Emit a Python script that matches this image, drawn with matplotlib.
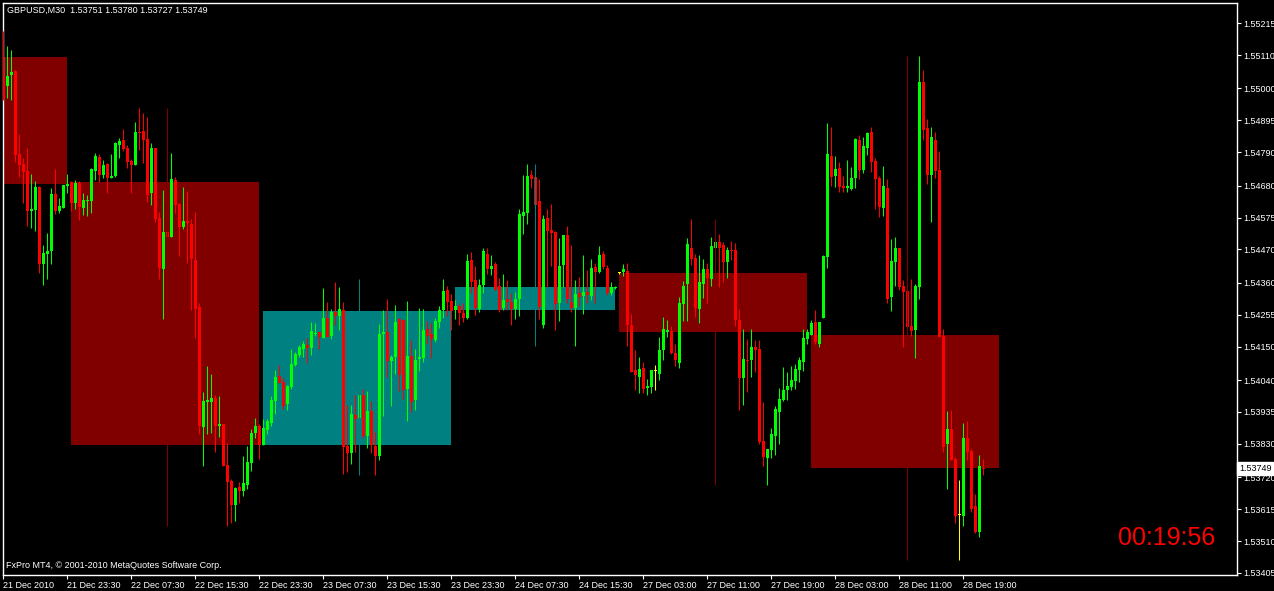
import numpy as np
import matplotlib
matplotlib.use('Agg')
import matplotlib.pyplot as plt
import matplotlib.transforms as mtransforms

plt.rcParams['font.family'] = ['Liberation Sans', 'DejaVu Sans']

symbol = "GBPUSD,M30"
timer_text = "00:19:56"
copyright_text = "FxPro MT4, \u00a9 2001-2010 MetaQuotes Software Corp."

# M30 candles, prices in points (1e-5)
opens = np.array([
    155034, 155008, 155044, 155057, 154784, 154751, 154728, 154597, 154600, 154676,
    154422, 154455, 154465, 154653, 154597, 154606, 154679, 154692, 154623, 154689,
    154606, 154630, 154630, 154728, 154774, 154715, 154751, 154705, 154712, 154814,
    154830, 154804, 154761, 154748, 154857, 154860, 154834, 154656, 154804, 154574,
    154406, 154528, 154511, 154699, 154620, 154544, 154564, 154554, 154435, 154281,
    153886, 153968, 153968, 153981, 153889, 153896, 153761, 153708, 153629, 153688,
    153675, 153695, 153767, 153866, 153889, 153827, 153876, 153899, 153971, 154054,
    154034, 153961, 154017, 154090, 154123, 154142, 154156, 154146, 154195, 154198,
    154179, 154245, 154185, 154264, 154251, 154271, 153823, 153800, 153925, 153915,
    153991, 153856, 153938, 153823, 153790, 154192, 154198, 154103, 154116, 154241,
    154238, 154011, 154119, 153975, 154110, 154113, 154208, 154192, 154172, 154231,
    154271, 154337, 154300, 154271, 154284, 154261, 154245, 154435, 154370, 154274,
    154353, 154455, 154406, 154422, 154350, 154277, 154307, 154297, 154274, 154307,
    154580, 154590, 154715, 154709, 154630, 154221, 154574, 154534, 154528, 154294,
    154419, 154518, 154297, 154277, 154327, 154317, 154330, 154317, 154412, 154396,
    154455, 154409, 154327, 154343, 154393, 154396, 154399, 154221, 154073, 154050,
    154080, 154014, 154017, 154070, 154060, 154139, 154198, 154202, 154129, 154096,
    154291, 154356, 154475, 154442, 154274, 154356, 154406, 154373, 154475, 154495,
    154485, 154429, 154468, 154468, 154238, 154047, 154106, 154106, 154149, 154142,
    153840, 153784, 153810, 153856, 153935, 153975, 154008, 154017, 154037, 154073,
    154100, 154175, 154189, 154231, 154159, 154245, 154445, 154778, 154712, 154738,
    154679, 154672, 154669, 154705, 154830, 154731, 154804, 154857, 154761, 154705,
    154606, 154672, 154314, 154429, 154475, 154350, 154333, 154218, 154205, 154347,
    155021, 154870, 154715, 154830, 154731, 154185, 153830, 153879, 153780, 153596,
    153593, 153850, 153807, 153626, 153540, 153751]) / 1e5

highs = np.array([
    155189, 155140, 155126, 155061, 154850, 154771, 154804, 154718, 154695, 154679,
    154485, 154524, 154672, 154735, 154639, 154682, 154718, 154695, 154699, 154695,
    154656, 154649, 154738, 154788, 154784, 154764, 154755, 154784, 154824, 154837,
    154866, 154814, 154768, 154889, 154936, 154919, 154906, 154820, 154804, 154593,
    154666, 154659, 154788, 154709, 154623, 154676, 154662, 154570, 154593, 154294,
    154001, 154086, 154060, 153991, 153988, 153896, 153833, 153715, 153688, 153705,
    153790, 153823, 153879, 153915, 153896, 153912, 153912, 153988, 154073, 154090,
    154047, 154024, 154142, 154133, 154156, 154169, 154179, 154231, 154228, 154198,
    154343, 154297, 154274, 154363, 154347, 154297, 153958, 153958, 153991, 154008,
    154011, 154004, 153971, 153869, 154225, 154271, 154307, 154123, 154287, 154245,
    154238, 154300, 154172, 154142, 154277, 154274, 154235, 154228, 154245, 154284,
    154373, 154350, 154323, 154304, 154291, 154294, 154455, 154462, 154416, 154373,
    154475, 154475, 154452, 154429, 154376, 154389, 154370, 154327, 154330, 154603,
    154715, 154751, 154731, 154709, 154702, 154583, 154603, 154620, 154531, 154508,
    154518, 154547, 154485, 154370, 154379, 154452, 154402, 154439, 154426, 154481,
    154465, 154419, 154363, 154350, 154396, 154422, 154426, 154258, 154139, 154116,
    154100, 154044, 154073, 154090, 154182, 154248, 154238, 154218, 154159, 154314,
    154366, 154508, 154570, 154455, 154452, 154439, 154426, 154511, 154501, 154521,
    154495, 154478, 154498, 154491, 154274, 154208, 154175, 154208, 154172, 154172,
    153968, 153813, 153883, 153955, 154014, 154083, 154067, 154086, 154093, 154116,
    154208, 154208, 154238, 154271, 154231, 154452, 154886, 154873, 154778, 154758,
    154712, 154764, 154741, 154837, 154847, 154840, 154857, 154873, 154771, 154712,
    154745, 154702, 154505, 154511, 154475, 154370, 154626, 154373, 154356, 155107,
    155061, 154899, 154873, 154857, 154794, 154208, 153938, 153942, 153787, 153711,
    153899, 153906, 153813, 153665, 153794, 153780]) / 1e5

lows = np.array([
    154962, 154968, 154962, 154758, 154709, 154623, 154547, 154541, 154531, 154393,
    154353, 154373, 154422, 154587, 154590, 154606, 154656, 154597, 154603, 154567,
    154583, 154580, 154590, 154699, 154692, 154705, 154656, 154705, 154709, 154771,
    154794, 154738, 154656, 154748, 154797, 154755, 154626, 154616, 154560, 154373,
    154241, 154488, 154511, 154590, 154449, 154537, 154426, 154271, 154179, 153863,
    153757, 153863, 153866, 153803, 153853, 153757, 153560, 153570, 153576, 153636,
    153659, 153682, 153741, 153850, 153780, 153827, 153863, 153889, 153929, 154031,
    153945, 153942, 154011, 154086, 154116, 154116, 154096, 154123, 154185, 154142,
    154179, 154182, 154175, 154221, 154205, 153731, 153738, 153764, 153803, 153909,
    153850, 153817, 153800, 153728, 153777, 153922, 154050, 153955, 154060, 154004,
    153978, 153906, 153935, 153942, 154070, 154100, 154159, 154113, 154166, 154212,
    154245, 154251, 154205, 154241, 154221, 154231, 154241, 154327, 154254, 154264,
    154327, 154389, 154386, 154337, 154264, 154271, 154271, 154221, 154241, 154251,
    154521, 154554, 154672, 154616, 154241, 154212, 154347, 154416, 154205, 154235,
    154347, 154294, 154264, 154152, 154284, 154258, 154294, 154304, 154294, 154393,
    154406, 154320, 154320, 154340, 154389, 154383, 154152, 154067, 154008, 153998,
    153998, 153991, 153998, 154008, 154040, 154106, 154182, 154126, 154086, 154080,
    154235, 154235, 154419, 154248, 154228, 154310, 154294, 154350, 154468, 154347,
    154363, 154376, 154435, 154218, 153942, 153958, 154001, 154050, 154067, 153830,
    153757, 153695, 153784, 153794, 153830, 153971, 153975, 154008, 154011, 154034,
    154070, 154159, 154189, 154159, 154149, 154245, 154409, 154679, 154676, 154659,
    154659, 154659, 154666, 154672, 154702, 154722, 154781, 154725, 154603, 154577,
    154580, 154294, 154268, 154350, 154337, 154149, 154172, 154185, 154113, 154307,
    154830, 154685, 154560, 154705, 154182, 153803, 153682, 153777, 153570, 153448,
    153560, 153777, 153606, 153537, 153524, 153727]) / 1e5

closes = np.array([
    154968, 155041, 155054, 154781, 154748, 154725, 154597, 154603, 154676, 154422,
    154458, 154465, 154653, 154597, 154613, 154682, 154685, 154623, 154689, 154610,
    154633, 154633, 154735, 154778, 154715, 154748, 154705, 154712, 154820, 154827,
    154801, 154758, 154748, 154857, 154853, 154830, 154649, 154804, 154570, 154409,
    154528, 154511, 154702, 154616, 154544, 154564, 154557, 154439, 154274, 153889,
    153971, 153975, 153981, 153889, 153896, 153757, 153705, 153629, 153685, 153675,
    153701, 153771, 153866, 153889, 153827, 153883, 153906, 153975, 154050, 154031,
    153955, 154021, 154093, 154126, 154149, 154159, 154146, 154202, 154198, 154182,
    154245, 154182, 154264, 154251, 154274, 153820, 153800, 153929, 153912, 153991,
    153856, 153938, 153827, 153790, 154192, 154198, 154103, 154116, 154231, 154057,
    154008, 154119, 153968, 154106, 154116, 154205, 154185, 154175, 154235, 154271,
    154333, 154297, 154268, 154284, 154261, 154245, 154432, 154363, 154277, 154353,
    154465, 154406, 154416, 154337, 154271, 154304, 154297, 154274, 154307, 154587,
    154593, 154712, 154702, 154616, 154281, 154570, 154531, 154524, 154291, 154416,
    154518, 154307, 154277, 154323, 154314, 154330, 154320, 154409, 154396, 154452,
    154412, 154327, 154347, 154347, 154393, 154406, 154221, 154067, 154057, 154077,
    154011, 154021, 154073, 154070, 154139, 154208, 154205, 154129, 154106, 154294,
    154350, 154488, 154439, 154277, 154363, 154406, 154376, 154481, 154495, 154475,
    154429, 154468, 154465, 154238, 154047, 154110, 154103, 154149, 154139, 153836,
    153787, 153813, 153863, 153945, 153978, 154008, 154021, 154040, 154077, 154106,
    154179, 154198, 154228, 154166, 154231, 154449, 154784, 154709, 154735, 154676,
    154672, 154679, 154705, 154834, 154731, 154811, 154853, 154758, 154702, 154610,
    154679, 154307, 154432, 154475, 154347, 154330, 154215, 154202, 154350, 155021,
    154863, 154715, 154840, 154728, 154182, 153820, 153879, 153777, 153593, 153596,
    153850, 153803, 153616, 153540, 153757, 153749]) / 1e5

# daily boxes (bar index of first and last bar of each day)
day_first = [-31, 17, 65, 113, 154, 202]
day_last = [16, 64, 112, 153, 201, 249]
first_day_open = 1.55103  # that day opened before the visible bars

x_ticks = list(range(0, 241, 16))
x_labels = ["21 Dec 2010", "21 Dec 23:30", "22 Dec 07:30", "22 Dec 15:30",
            "22 Dec 23:30", "23 Dec 07:30", "23 Dec 15:30", "23 Dec 23:30",
            "24 Dec 07:30", "24 Dec 15:30", "27 Dec 03:00", "27 Dec 11:00",
            "27 Dec 19:00", "28 Dec 03:00", "28 Dec 11:00", "28 Dec 19:00"]
y_ticks = [1.55215, 1.55110, 1.55000, 1.54895, 1.54790, 1.54680, 1.54575,
           1.54470, 1.54360, 1.54255, 1.54150, 1.54040, 1.53935, 1.53830,
           1.53720, 1.53615, 1.53510, 1.53405]

W, H = 1274, 591
fig = plt.figure(figsize=(W / 100, H / 100), dpi=100, facecolor='black')
ax = fig.add_axes([2.5 / W, 16.5 / H, 1234 / W, 572 / H], facecolor='black')

n = len(opens)
x = np.arange(n)

# day boxes and day range lines
for a, b in zip(day_first, day_last):
    o = opens[a] if a >= 0 else first_day_open
    c = closes[min(b, n - 1)]
    col = '#800000' if c < o else '#008080'
    ax.fill_between([a, b], o, c, color=col, lw=0, zorder=1)
    if a >= 0:
        mid = int(np.ceil((a + b) / 2))
        ax.vlines(mid, lows[a:b + 1].min(), highs[a:b + 1].max(), colors=col, lw=0.75, zorder=5)

# candles
colors = np.where(closes > opens, '#00ff00', np.where(closes < opens, '#ff0000', '#ffff00'))
ax.vlines(x, lows, highs, colors=colors, lw=0.75, zorder=3)
px = 0.0000329
body_h = np.maximum(np.abs(closes - opens), px)
body_lo = np.where(np.abs(closes - opens) < px, np.minimum(opens, closes) - px / 2, np.minimum(opens, closes))
ax.bar(x, body_h, bottom=body_lo, width=0.72, color=colors, lw=0, zorder=4)

ax.set_xlim(-0.2, 308.3)
ax.set_ylim(1.53400, 1.55283)

for s in ax.spines.values():
    s.set_color('white')
    s.set_linewidth(1)

ax.yaxis.tick_right()
ax.set_yticks(y_ticks)
ax.set_yticklabels([f"{v:.5f}" for v in y_ticks])
ax.set_xticks(x_ticks)
ax.set_xticklabels(x_labels)
for lbl in ax.get_xticklabels():
    lbl.set_ha('left')
ax.tick_params(colors='white', labelcolor='white', labelsize=6.5, length=3, width=0.8, pad=2)

# current price marker
trans = mtransforms.blended_transform_factory(ax.transAxes, ax.transData)
ax.text(1.002, closes[-1], f"{closes[-1]:.5f}", transform=trans, color='black', fontsize=6.5,
        va='center', ha='left', clip_on=False, zorder=10,
        bbox=dict(facecolor='white', edgecolor='white', pad=1.2))

title = f"{symbol}  {opens[-1]:.5f} {highs[-1]:.5f} {lows[-1]:.5f} {closes[-1]:.5f}"
fig.text(7 / W, 1 - 10.5 / H, title, color='white', fontsize=6.5, va='center', ha='left')
fig.text(6 / W, 1 - 565 / H, copyright_text, color='white', fontsize=6.5, va='center', ha='left')
fig.text(1167 / W, 1 - 538 / H, timer_text, color='#ff0000', fontsize=18, va='center', ha='center')

fig.savefig('out.png', dpi=100, facecolor='black')
